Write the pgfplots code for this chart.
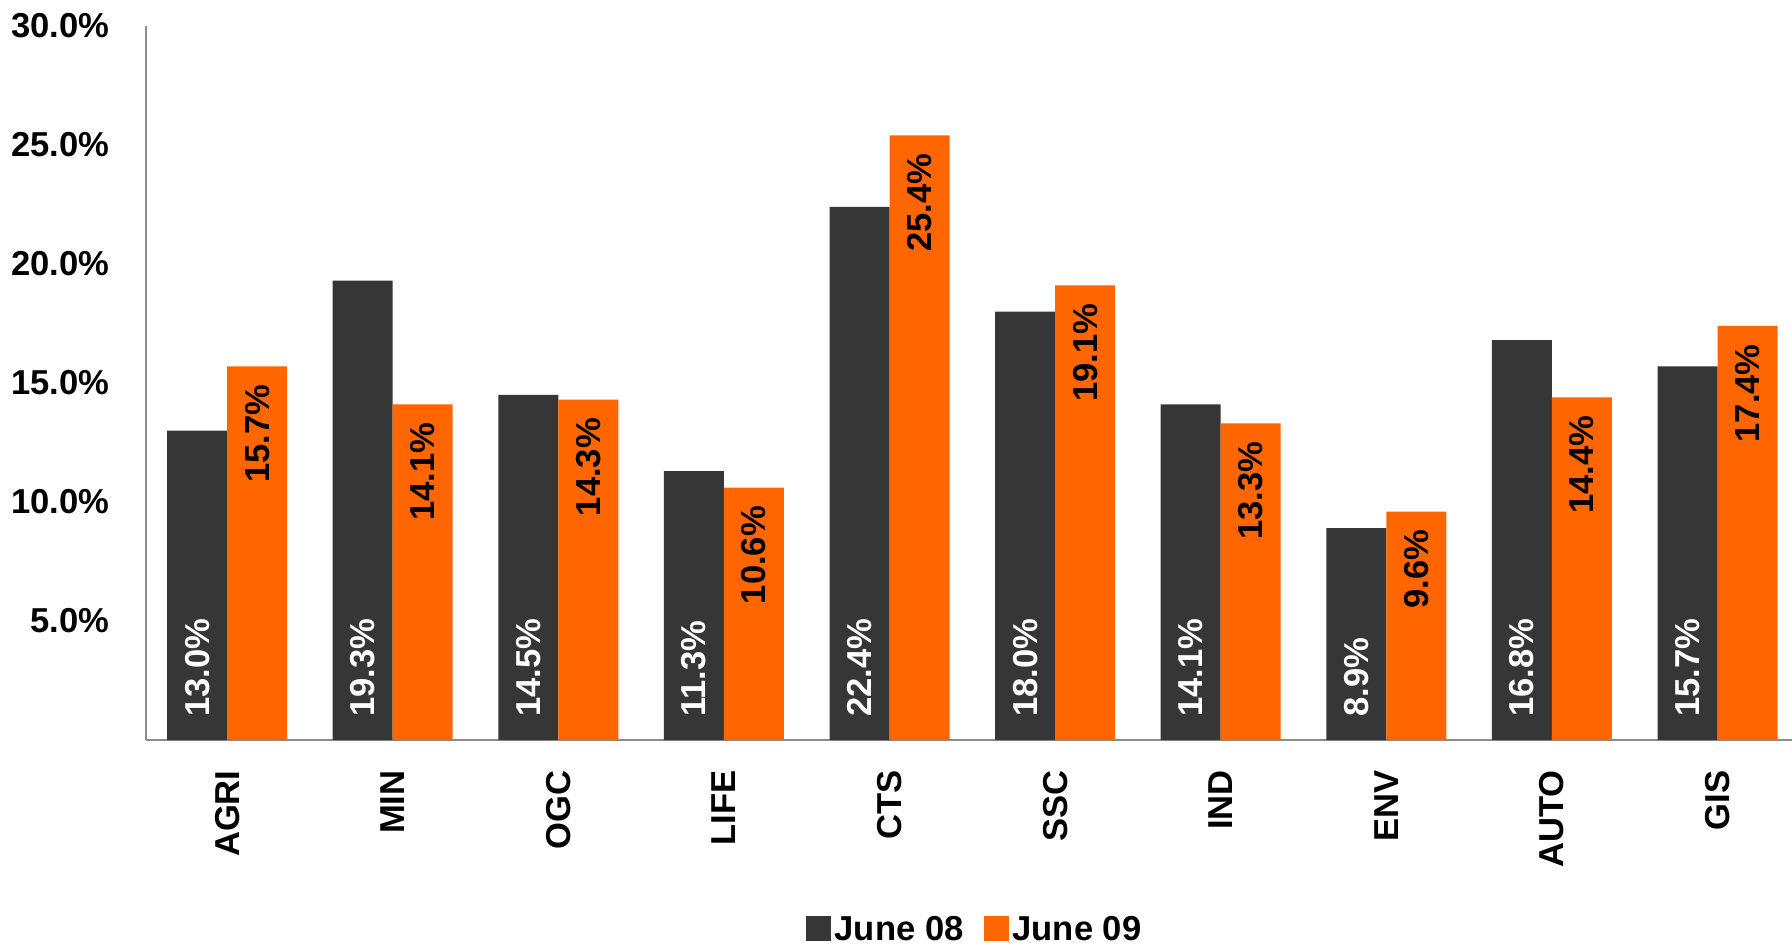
\documentclass[border=0pt]{standalone}
\usepackage{pgfplots}
\pgfplotsset{compat=1.18}
\usepackage{fontspec}
\setmainfont{Liberation Sans}
\definecolor{darkbar}{HTML}{363636}
\definecolor{orangebar}{HTML}{FF6600}
\definecolor{axisgray}{HTML}{8C8C8C}
\newcommand{\lblfont}{\fontsize{17.3}{20}\selectfont\bfseries}
\pgfplotsset{sqlegend/.style={legend image code/.code={\fill[##1] (0pt,-5.5pt) rectangle (12.5pt,7pt);}}}
\begin{document}
\begin{tikzpicture}
\begin{axis}[
  at={(0,0)}, anchor=south west,
  scale only axis, width=823pt, height=357pt,
  xmin=-0.49, xmax=9.45, ymin=0, ymax=30,
  axis x line*=bottom, axis y line*=left,
  axis line style={-, draw=axisgray, line width=1.1pt},
  major tick length=0pt,
  xtick={0,...,9},
  xticklabels={AGRI,MIN,OGC,LIFE,CTS,SSC,IND,ENV,AUTO,GIS},
  ytick={5,10,15,20,25,30},
  yticklabels={5.0\%,10.0\%,15.0\%,20.0\%,25.0\%,30.0\%},
  xticklabel style={rotate=90, anchor=east, inner xsep=15pt, inner ysep=0pt, font=\lblfont},
  yticklabel style={anchor=east, inner xsep=18pt, inner ysep=0pt, font=\lblfont},
  ybar, bar width=30pt,
  clip=false,
  legend style={at={(0.504,-0.266)}, anchor=center, draw=none, fill=none,
    legend columns=2, font=\lblfont,
    /tikz/every even column/.append style={column sep=8pt}},
]
\addplot[fill=darkbar, draw=none, bar shift=-15pt, sqlegend,
  point meta=explicit symbolic, nodes near coords,
  visualization depends on=y \as \rawy,
  every node near coord/.append style={shift={(axis direction cs:0,-\rawy)}, rotate=90, anchor=west, inner xsep=11.5pt, inner ysep=0pt, text=white, font=\lblfont}]
coordinates {(0,13.0)[13.0\%] (1,19.3)[19.3\%] (2,14.5)[14.5\%] (3,11.3)[11.3\%] (4,22.4)[22.4\%] (5,18.0)[18.0\%] (6,14.1)[14.1\%] (7,8.9)[8.9\%] (8,16.8)[16.8\%] (9,15.7)[15.7\%]};
\addplot[fill=orangebar, draw=none, bar shift=15pt, sqlegend,
  point meta=explicit symbolic, nodes near coords,
  every node near coord/.append style={rotate=90, anchor=east, inner xsep=9pt, inner ysep=0pt, text=black, font=\lblfont}]
coordinates {(0,15.7)[15.7\%] (1,14.1)[14.1\%] (2,14.3)[14.3\%] (3,10.6)[10.6\%] (4,25.4)[25.4\%] (5,19.1)[19.1\%] (6,13.3)[13.3\%] (7,9.6)[9.6\%] (8,14.4)[14.4\%] (9,17.4)[17.4\%]};
\legend{June 08, June 09}
\end{axis}
\pgfresetboundingbox
\path[use as bounding box] (-73pt,-103.5pt) rectangle (823pt,370pt);
\end{tikzpicture}
\end{document}
